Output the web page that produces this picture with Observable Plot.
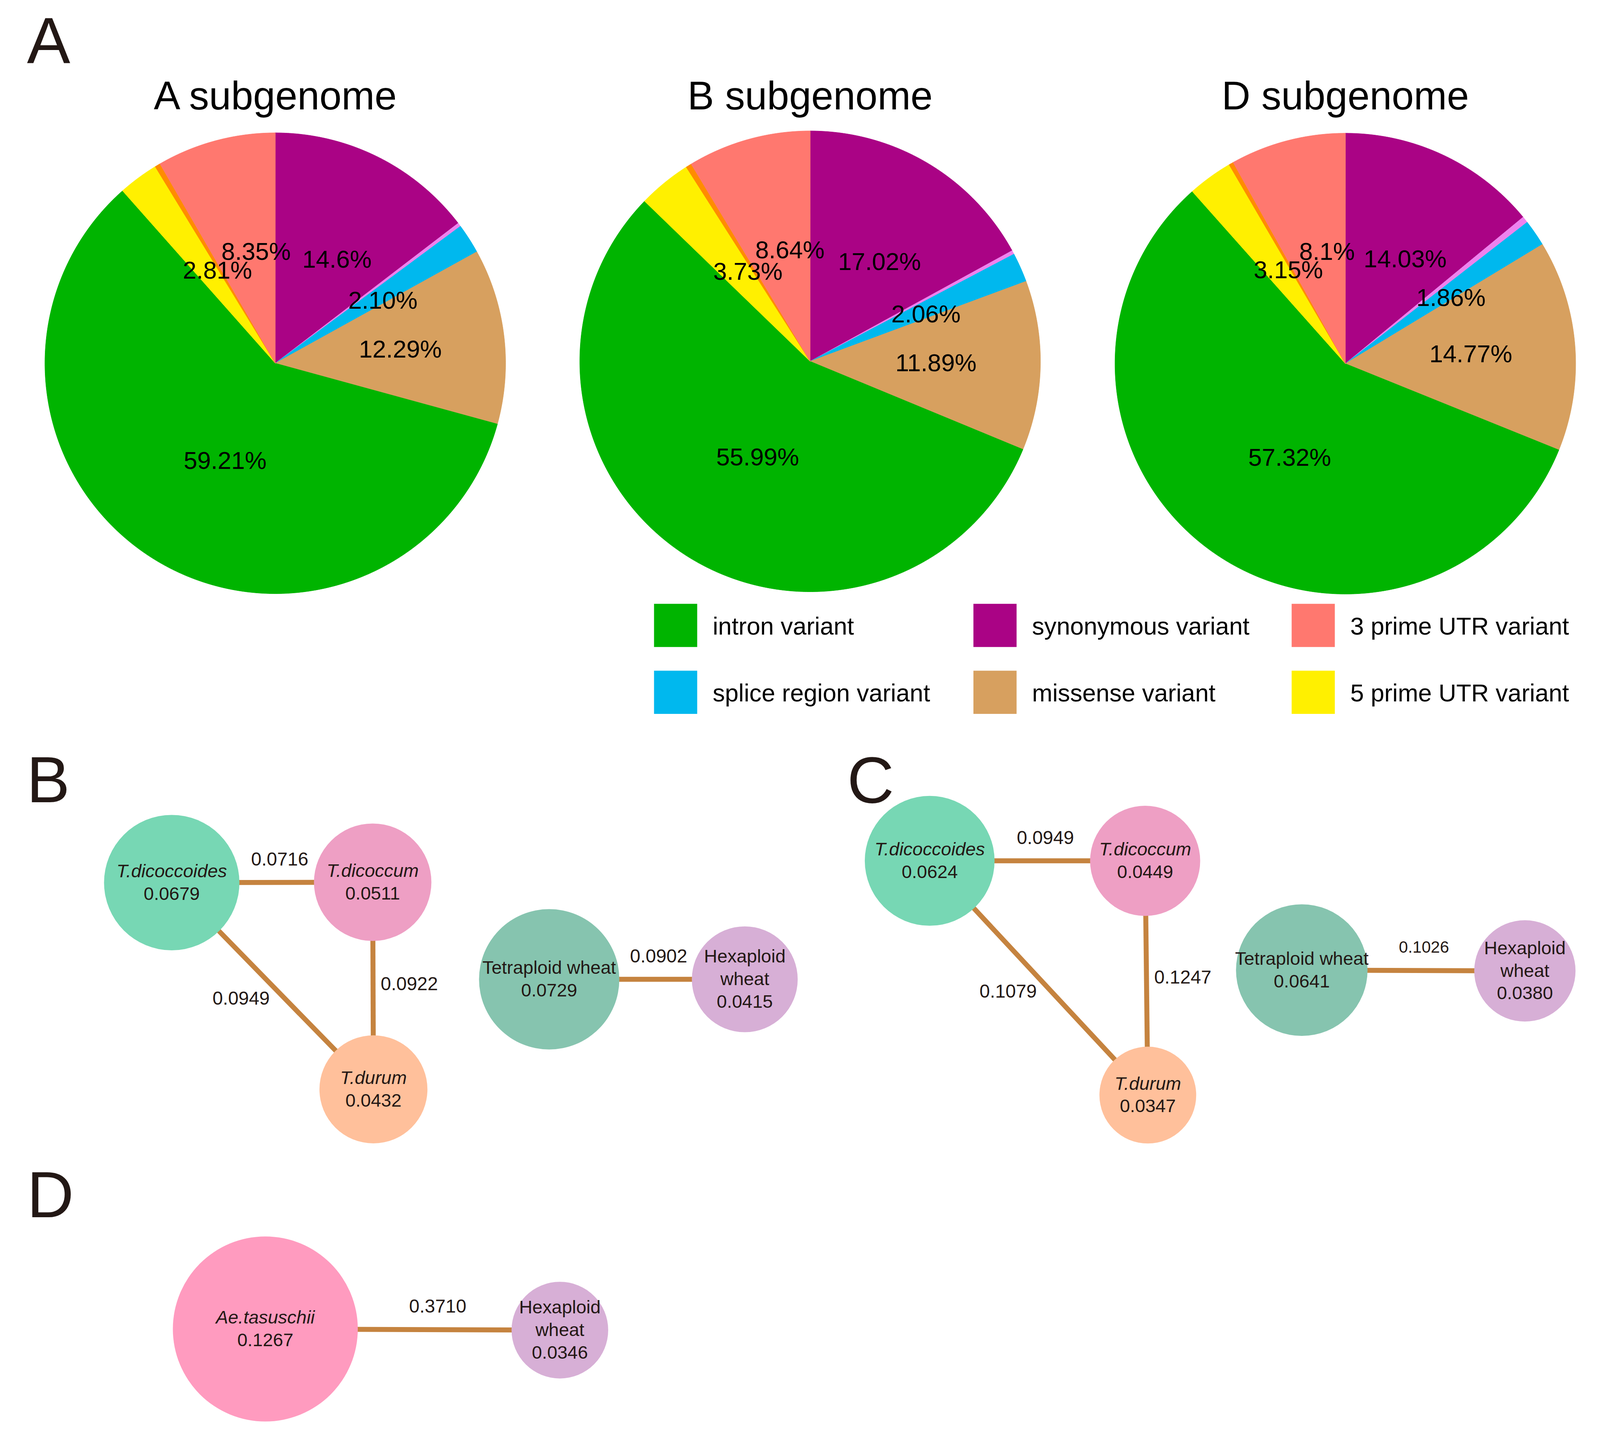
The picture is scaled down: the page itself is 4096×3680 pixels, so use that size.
<!DOCTYPE html>
<html>
<head>
<meta charset="utf-8">
<script src="https://cdn.jsdelivr.net/npm/d3@7"></script>
<script src="https://cdn.jsdelivr.net/npm/@observablehq/plot@0.6"></script>
<style>
html, body { margin: 0; padding: 0; background: #ffffff; }
svg { display: block; }
</style>
</head>
<body>
<div id="chart"></div>
<script>
// ================= DATA =================
// Pie slices, clockwise from 12 o'clock
const sliceTypes = ["synonymous variant", "other variant 1", "splice region variant", "missense variant",
                    "intron variant", "5 prime UTR variant", "other variant 2", "3 prime UTR variant"];
const pieTitles = ["A subgenome", "B subgenome", "D subgenome"];
const pieA = [14.6, 0.26, 2.10, 12.29, 59.21, 2.81, 0.38, 8.35];
const pieB = [17.02, 0.27, 2.06, 11.89, 55.99, 3.73, 0.40, 8.64];
const pieD = [14.03, 0.45, 1.86, 14.77, 57.32, 3.15, 0.32, 8.1];
const labelsA = ["14.6%", "", "2.10%", "12.29%", "59.21%", "2.81%", "", "8.35%"];
const labelsB = ["17.02%", "", "2.06%", "11.89%", "55.99%", "3.73%", "", "8.64%"];
const labelsD = ["14.03%", "", "1.86%", "14.77%", "57.32%", "3.15%", "", "8.1%"];
const legendOrder = ["intron variant", "synonymous variant", "3 prime UTR variant",
                     "splice region variant", "missense variant", "5 prime UTR variant"];

// Networks: nucleotide diversity (nodes) and Fst (edges)
const nodesB = ["T.dicoccoides", "T.dicoccum", "T.durum", "Tetraploid wheat", "Hexaploid wheat"];
const piB    = [0.0679, 0.0511, 0.0432, 0.0729, 0.0415];
const edgeFromB = ["T.dicoccoides", "T.dicoccum", "T.dicoccoides", "Tetraploid wheat"];
const edgeToB   = ["T.dicoccum", "T.durum", "T.durum", "Hexaploid wheat"];
const fstB      = [0.0716, 0.0922, 0.0949, 0.0902];

const nodesC = ["T.dicoccoides", "T.dicoccum", "T.durum", "Tetraploid wheat", "Hexaploid wheat"];
const piC    = [0.0624, 0.0449, 0.0347, 0.0641, 0.0380];
const edgeFromC = ["T.dicoccoides", "T.dicoccum", "T.dicoccoides", "Tetraploid wheat"];
const edgeToC   = ["T.dicoccum", "T.durum", "T.durum", "Hexaploid wheat"];
const fstC      = [0.0949, 0.1247, 0.1079, 0.1026];

const nodesD = ["Ae.tasuschii", "Hexaploid wheat"];
const piD    = [0.1267, 0.0346];
const edgeFromD = ["Ae.tasuschii"];
const edgeToD   = ["Hexaploid wheat"];
const fstD      = [0.3710];

// ================= STYLE & LAYOUT =================
const S = 0.978, REF_W = 4184, REF_H = 3759;
const FONT = "'Liberation Sans', Arial, Helvetica, sans-serif";
const INK = "#231815";
const sliceColors = {
  "synonymous variant": "#AA0385", "other variant 1": "#EE82EE", "splice region variant": "#00B8EE",
  "missense variant": "#D7A05F", "intron variant": "#00B400", "5 prime UTR variant": "#FFF000",
  "other variant 2": "#FF8C00", "3 prime UTR variant": "#FF786F"
};
const nodeColors = {
  "T.dicoccoides": "#77D7B4", "T.dicoccum": "#EE9FC4", "T.durum": "#FFC09B",
  "Tetraploid wheat": "#86C4AF", "Hexaploid wheat": "#D7AFD6", "Ae.tasuschii": "#FF9BBF"
};
const edgeColor = "#C5833F";
const pieCenters = [[720, 950], [2120, 945], [3521, 951]];
const pieR = 603;
const titleBaseline = 286;
const panelLetters = [
  {t: "A", x: 70, b: 165}, {t: "B", x: 69, b: 2099},
  {t: "C", x: 2217, b: 2100}, {t: "D", x: 70, b: 3185}
];
const legendCols = [1712, 2548, 3381], legendRows = [1580, 1755], legendBox = 113;
const nodeLayout = {
  B: {"T.dicoccoides": [449, 2309], "T.dicoccum": [975, 2308], "T.durum": [977, 2850],
      "Tetraploid wheat": [1437, 2562], "Hexaploid wheat": [1949, 2562]},
  C: {"T.dicoccoides": [2433, 2252], "T.dicoccum": [2997, 2252], "T.durum": [3004, 2865],
      "Tetraploid wheat": [3407, 2538], "Hexaploid wheat": [3991, 2540]},
  D: {"Ae.tasuschii": [694, 3477], "Hexaploid wheat": [1465, 3480]}
};
const edgeLabelSide = {B: ["above", "right", "left", "above"], C: ["above", "right", "left", "above"], D: ["above"]};
const smallEdgeLabels = new Set(["C:Tetraploid wheat-Hexaploid wheat"]);
const R_PER_SQRT = 680;      // node radius (reference px) per sqrt(diversity)
const F = {letter: 170, title: 104, pie: 64, legend: 64, node: 48, edge: 49, edgeSmall: 43};
const base = (b, f) => b - 0.32 * f; // baseline -> y for lineAnchor "middle"

// ================= DERIVED =================
const pies = [pieA, pieB, pieD];
const pieLabels = [labelsA, labelsB, labelsD];
const slicePolys = [], sliceLabels = [];
pies.forEach((vals, pi) => {
  const arcs = d3.pie().sort(null).startAngle(0).endAngle(2 * Math.PI)(vals);
  const [cx, cy] = pieCenters[pi];
  arcs.forEach((a, k) => {
    const pts = [{x: cx, y: cy}];
    const n = Math.max(2, Math.ceil((a.endAngle - a.startAngle) / (Math.PI / 720)));
    for (let j = 0; j <= n; j++) {
      const t = a.startAngle + (a.endAngle - a.startAngle) * j / n;
      pts.push({x: cx + pieR * Math.sin(t), y: cy - pieR * Math.cos(t)});
    }
    slicePolys.push({color: sliceColors[sliceTypes[k]], pts});
    const lab = pieLabels[pi][k];
    if (lab) {
      const mid = (a.startAngle + a.endAngle) / 2;
      sliceLabels.push({text: lab, x: cx + 0.5 * pieR * Math.sin(mid) + 28, y: cy - 0.5 * pieR * Math.cos(mid)});
    }
  });
});
const titles = pieTitles.map((t, i) => ({text: t, x: pieCenters[i][0], y: base(titleBaseline, F.title)}));
const legendItems = legendOrder.map((name, i) => {
  const x = legendCols[i % 3], y = legendRows[Math.floor(i / 3)];
  return {name, color: sliceColors[name], x1: x, x2: x + legendBox, y1: y, y2: y + legendBox,
          tx: x + 153, ty: base(y + 80, F.legend)};
});

const panels = [
  {id: "B", nodes: nodesB, pi: piB, from: edgeFromB, to: edgeToB, fst: fstB},
  {id: "C", nodes: nodesC, pi: piC, from: edgeFromC, to: edgeToC, fst: fstC},
  {id: "D", nodes: nodesD, pi: piD, from: edgeFromD, to: edgeToD, fst: fstD}
];
const nodeData = [], edgeData = [], nodeText = [], edgeText = [];
const approxWidth = (s, f) => s.length * 0.55 * f;
panels.forEach(p => {
  const L = nodeLayout[p.id];
  const piOf = {};
  p.nodes.forEach((name, i) => {
    piOf[name] = p.pi[i];
    const [x, y] = L[name];
    nodeData.push({name, pi: p.pi[i], x, y, color: nodeColors[name]});
    const rr = R_PER_SQRT * Math.sqrt(p.pi[i]);
    const italic = name.includes(".");
    let nameLines = [name];
    if (name.includes(" ") && approxWidth(name, F.node) > 2.6 * rr) nameLines = name.split(" ");
    const lines = nameLines.map(t => ({t, italic})).concat([{t: p.pi[i].toFixed(4), italic: false}]);
    const n = lines.length;
    lines.forEach((ln, j) => nodeText.push({text: ln.t, italic: ln.italic, x, y: y + (j - (n - 1) / 2) * 59}));
  });
  p.from.forEach((s, i) => {
    const t = p.to[i];
    const [sx, sy] = L[s], [tx, ty] = L[t];
    edgeData.push({x1: sx, y1: sy, x2: tx, y2: ty});
    const rs = R_PER_SQRT * Math.sqrt(piOf[s]), rt = R_PER_SQRT * Math.sqrt(piOf[t]);
    const dx = tx - sx, dy = ty - sy, len = Math.hypot(dx, dy), ux = dx / len, uy = dy / len;
    const mx = ((sx + rs * ux) + (tx - rt * ux)) / 2, my = ((sy + rs * uy) + (ty - rt * uy)) / 2;
    const side = edgeLabelSide[p.id][i];
    const small = smallEdgeLabels.has(`${p.id}:${s}-${t}`);
    const lab = {text: p.fst[i].toFixed(4), side, size: small ? F.edgeSmall : F.edge};
    if (side === "above") Object.assign(lab, {x: mx + 8, y: my - 60});
    else if (side === "right") Object.assign(lab, {x: mx + 20, y: my - 10});
    else Object.assign(lab, {x: mx - 20, y: my + 20});
    edgeText.push(lab);
  });
});

// ================= MARKS =================
const marks = [];
slicePolys.forEach(s => marks.push(Plot.line(s.pts, {x: "x", y: "y", fill: s.color, stroke: s.color, strokeWidth: 1, curve: "linear-closed"})));
marks.push(Plot.text(sliceLabels, {x: "x", y: "y", text: "text", fontSize: F.pie * S, fill: "#000"}));
marks.push(Plot.text(titles, {x: "x", y: "y", text: "text", fontSize: F.title * S, fill: "#000"}));
marks.push(Plot.text(panelLetters, {x: "x", y: d => base(d.b, F.letter), text: "t", fontSize: F.letter * S, textAnchor: "start", fill: INK}));
marks.push(Plot.rect(legendItems, {x1: "x1", x2: "x2", y1: "y1", y2: "y2", fill: "color"}));
marks.push(Plot.text(legendItems, {x: "tx", y: "ty", text: "name", fontSize: F.legend * S, textAnchor: "start", fill: "#000"}));
marks.push(Plot.link(edgeData, {x1: "x1", y1: "y1", x2: "x2", y2: "y2", stroke: edgeColor, strokeWidth: 13 * S}));
marks.push(Plot.dot(nodeData, {x: "x", y: "y", r: "pi", fill: "color", stroke: null}));
marks.push(Plot.text(nodeText.filter(d => d.italic), {x: "x", y: "y", text: "text", fontSize: F.node * S, fontStyle: "italic", fill: INK}));
marks.push(Plot.text(nodeText.filter(d => !d.italic), {x: "x", y: "y", text: "text", fontSize: F.node * S, fill: INK}));
const anchorOf = {above: "middle", right: "start", left: "end"};
["above", "right", "left"].forEach(side => {
  [F.edge, F.edgeSmall].forEach(sz => {
    const d = edgeText.filter(e => e.side === side && e.size === sz);
    if (d.length) marks.push(Plot.text(d, {x: "x", y: "y", text: "text", fontSize: sz * S, textAnchor: anchorOf[side], fill: INK}));
  });
});

const chart = Plot.plot({
  width: 4096, height: 3680, margin: 0,
  x: {domain: [0, REF_W], range: [0, REF_W * S], axis: null},
  y: {domain: [0, REF_H], range: [0, REF_H * S], axis: null},
  r: {type: "sqrt", domain: [0, 1], range: [0, R_PER_SQRT * S]},
  color: {type: "identity"},
  style: {fontFamily: FONT, background: "#ffffff", overflow: "visible"},
  marks
});
document.getElementById("chart").append(chart);
</script>
</body>
</html>
